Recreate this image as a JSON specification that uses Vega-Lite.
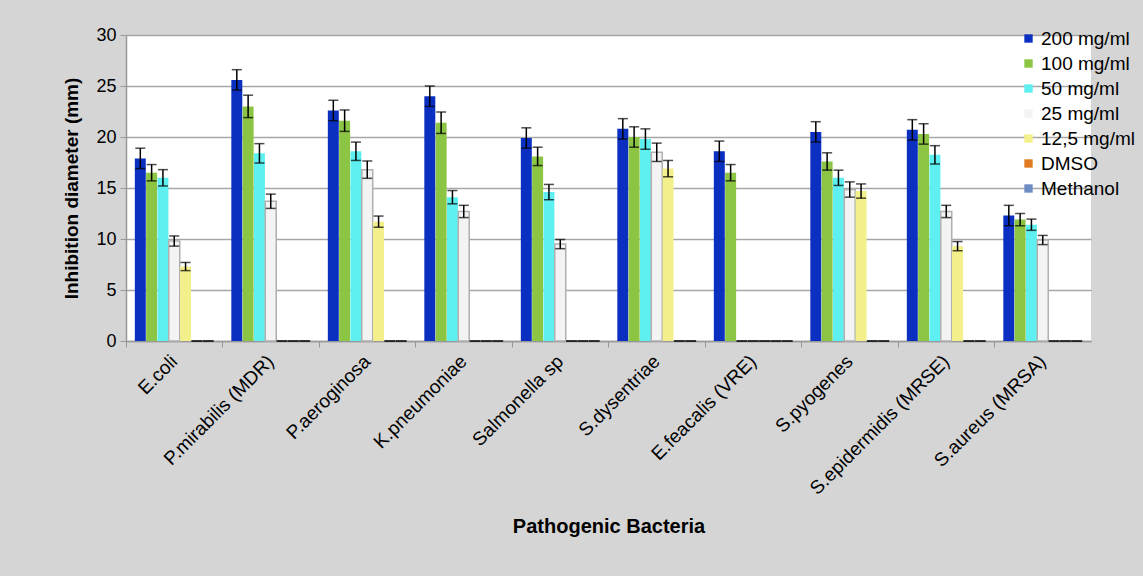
{
  "$schema": "https://vega.github.io/schema/vega-lite/v6.json",
  "width": 965,
  "height": 306,
  "autosize": {"type": "none"},
  "padding": {"left": 126, "top": 35, "right": 52, "bottom": 235},
  "background": "#d5d5d5",
  "config": {
    "font": "Liberation Sans",
    "view": {"fill": "white", "stroke": null}
  },
  "data": {
    "values": [
      {"bacteria": "E.coli", "conc": "200 mg/ml", "value": 17.9, "err": 1.0},
      {"bacteria": "E.coli", "conc": "100 mg/ml", "value": 16.5, "err": 0.8},
      {"bacteria": "E.coli", "conc": "50 mg/ml", "value": 16.0, "err": 0.8},
      {"bacteria": "E.coli", "conc": "25 mg/ml", "value": 9.8, "err": 0.5},
      {"bacteria": "E.coli", "conc": "12,5 mg/ml", "value": 7.3, "err": 0.4},
      {"bacteria": "E.coli", "conc": "DMSO", "value": 0, "err": 0},
      {"bacteria": "E.coli", "conc": "Methanol", "value": 0, "err": 0},
      {"bacteria": "P.mirabilis (MDR)", "conc": "200 mg/ml", "value": 25.6, "err": 1.0},
      {"bacteria": "P.mirabilis (MDR)", "conc": "100 mg/ml", "value": 23.0, "err": 1.1},
      {"bacteria": "P.mirabilis (MDR)", "conc": "50 mg/ml", "value": 18.4, "err": 0.95},
      {"bacteria": "P.mirabilis (MDR)", "conc": "25 mg/ml", "value": 13.7, "err": 0.7},
      {"bacteria": "P.mirabilis (MDR)", "conc": "12,5 mg/ml", "value": 0, "err": 0},
      {"bacteria": "P.mirabilis (MDR)", "conc": "DMSO", "value": 0, "err": 0},
      {"bacteria": "P.mirabilis (MDR)", "conc": "Methanol", "value": 0, "err": 0},
      {"bacteria": "P.aeroginosa", "conc": "200 mg/ml", "value": 22.6, "err": 1.0},
      {"bacteria": "P.aeroginosa", "conc": "100 mg/ml", "value": 21.6, "err": 1.05},
      {"bacteria": "P.aeroginosa", "conc": "50 mg/ml", "value": 18.6, "err": 0.9},
      {"bacteria": "P.aeroginosa", "conc": "25 mg/ml", "value": 16.8, "err": 0.85},
      {"bacteria": "P.aeroginosa", "conc": "12,5 mg/ml", "value": 11.7, "err": 0.55},
      {"bacteria": "P.aeroginosa", "conc": "DMSO", "value": 0, "err": 0},
      {"bacteria": "P.aeroginosa", "conc": "Methanol", "value": 0, "err": 0},
      {"bacteria": "K.pneumoniae", "conc": "200 mg/ml", "value": 24.0, "err": 1.0},
      {"bacteria": "K.pneumoniae", "conc": "100 mg/ml", "value": 21.4, "err": 1.05},
      {"bacteria": "K.pneumoniae", "conc": "50 mg/ml", "value": 14.1, "err": 0.65},
      {"bacteria": "K.pneumoniae", "conc": "25 mg/ml", "value": 12.7, "err": 0.6},
      {"bacteria": "K.pneumoniae", "conc": "12,5 mg/ml", "value": 0, "err": 0},
      {"bacteria": "K.pneumoniae", "conc": "DMSO", "value": 0, "err": 0},
      {"bacteria": "K.pneumoniae", "conc": "Methanol", "value": 0, "err": 0},
      {"bacteria": "Salmonella sp", "conc": "200 mg/ml", "value": 19.9, "err": 1.0},
      {"bacteria": "Salmonella sp", "conc": "100 mg/ml", "value": 18.1, "err": 0.9},
      {"bacteria": "Salmonella sp", "conc": "50 mg/ml", "value": 14.6, "err": 0.75},
      {"bacteria": "Salmonella sp", "conc": "25 mg/ml", "value": 9.5, "err": 0.45},
      {"bacteria": "Salmonella sp", "conc": "12,5 mg/ml", "value": 0, "err": 0},
      {"bacteria": "Salmonella sp", "conc": "DMSO", "value": 0, "err": 0},
      {"bacteria": "Salmonella sp", "conc": "Methanol", "value": 0, "err": 0},
      {"bacteria": "S.dysentriae", "conc": "200 mg/ml", "value": 20.8, "err": 1.0},
      {"bacteria": "S.dysentriae", "conc": "100 mg/ml", "value": 20.0, "err": 1.0},
      {"bacteria": "S.dysentriae", "conc": "50 mg/ml", "value": 19.8, "err": 1.0},
      {"bacteria": "S.dysentriae", "conc": "25 mg/ml", "value": 18.5, "err": 0.9},
      {"bacteria": "S.dysentriae", "conc": "12,5 mg/ml", "value": 16.9, "err": 0.8},
      {"bacteria": "S.dysentriae", "conc": "DMSO", "value": 0, "err": 0},
      {"bacteria": "S.dysentriae", "conc": "Methanol", "value": 0, "err": 0},
      {"bacteria": "E.feacalis (VRE)", "conc": "200 mg/ml", "value": 18.6, "err": 1.0},
      {"bacteria": "E.feacalis (VRE)", "conc": "100 mg/ml", "value": 16.5, "err": 0.8},
      {"bacteria": "E.feacalis (VRE)", "conc": "50 mg/ml", "value": 0, "err": 0},
      {"bacteria": "E.feacalis (VRE)", "conc": "25 mg/ml", "value": 0, "err": 0},
      {"bacteria": "E.feacalis (VRE)", "conc": "12,5 mg/ml", "value": 0, "err": 0},
      {"bacteria": "E.feacalis (VRE)", "conc": "DMSO", "value": 0, "err": 0},
      {"bacteria": "E.feacalis (VRE)", "conc": "Methanol", "value": 0, "err": 0},
      {"bacteria": "S.pyogenes", "conc": "200 mg/ml", "value": 20.5, "err": 1.0},
      {"bacteria": "S.pyogenes", "conc": "100 mg/ml", "value": 17.6, "err": 0.85},
      {"bacteria": "S.pyogenes", "conc": "50 mg/ml", "value": 16.0, "err": 0.75},
      {"bacteria": "S.pyogenes", "conc": "25 mg/ml", "value": 14.85, "err": 0.75},
      {"bacteria": "S.pyogenes", "conc": "12,5 mg/ml", "value": 14.7, "err": 0.7},
      {"bacteria": "S.pyogenes", "conc": "DMSO", "value": 0, "err": 0},
      {"bacteria": "S.pyogenes", "conc": "Methanol", "value": 0, "err": 0},
      {"bacteria": "S.epidermidis (MRSE)", "conc": "200 mg/ml", "value": 20.7, "err": 1.0},
      {"bacteria": "S.epidermidis (MRSE)", "conc": "100 mg/ml", "value": 20.3, "err": 1.0},
      {"bacteria": "S.epidermidis (MRSE)", "conc": "50 mg/ml", "value": 18.25, "err": 0.9},
      {"bacteria": "S.epidermidis (MRSE)", "conc": "25 mg/ml", "value": 12.7, "err": 0.6},
      {"bacteria": "S.epidermidis (MRSE)", "conc": "12,5 mg/ml", "value": 9.3, "err": 0.45},
      {"bacteria": "S.epidermidis (MRSE)", "conc": "DMSO", "value": 0, "err": 0},
      {"bacteria": "S.epidermidis (MRSE)", "conc": "Methanol", "value": 0, "err": 0},
      {"bacteria": "S.aureus (MRSA)", "conc": "200 mg/ml", "value": 12.3, "err": 1.0},
      {"bacteria": "S.aureus (MRSA)", "conc": "100 mg/ml", "value": 11.9, "err": 0.6},
      {"bacteria": "S.aureus (MRSA)", "conc": "50 mg/ml", "value": 11.4, "err": 0.55},
      {"bacteria": "S.aureus (MRSA)", "conc": "25 mg/ml", "value": 9.9, "err": 0.45},
      {"bacteria": "S.aureus (MRSA)", "conc": "12,5 mg/ml", "value": 0, "err": 0},
      {"bacteria": "S.aureus (MRSA)", "conc": "DMSO", "value": 0, "err": 0},
      {"bacteria": "S.aureus (MRSA)", "conc": "Methanol", "value": 0, "err": 0}
    ]
  },
  "encoding": {
    "x": {
      "field": "bacteria",
      "type": "nominal",
      "sort": null,
      "scale": {"paddingInner": 0, "paddingOuter": 0},
      "axis": {
        "title": "Pathogenic Bacteria",
        "titleFontSize": 20,
        "titleFontWeight": "bold",
        "titleColor": "#000",
        "titleY": 175,
        "titleBaseline": "top",
        "bandPosition": 0,
        "labelAngle": -45,
        "labelAlign": "right",
        "labelBaseline": "middle",
        "labelFontSize": 19,
        "labelColor": "#000",
        "labelPadding": 11,
        "labelLimit": 400,
        "labelOverlap": false,
        "labelBound": false,
        "labelFlush": false,
        "tickColor": "#999",
        "tickSize": 6,
        "domainColor": "#999",
        "domainWidth": 1.5
      }
    },
    "xOffset": {
      "field": "conc",
      "type": "nominal",
      "sort": ["200 mg/ml", "100 mg/ml", "50 mg/ml", "25 mg/ml", "12,5 mg/ml", "DMSO", "Methanol"],
      "scale": {"paddingInner": 0.03, "paddingOuter": 0.78}
    }
  },
  "layer": [
    {
      "mark": {"type": "bar", "strokeWidth": 1.5},
      "encoding": {
        "y": {
          "field": "value",
          "type": "quantitative",
          "scale": {"domain": [0, 30], "nice": false},
          "axis": {
            "title": "Inhibition diameter (mm)",
            "titleFontSize": 19,
            "titleFontWeight": "bold",
            "titleColor": "#000",
            "titlePadding": 14,
            "values": [0, 5, 10, 15, 20, 25, 30],
            "labelFontSize": 18,
            "labelColor": "#000",
            "labelPadding": 4,
            "tickSize": 6,
            "tickColor": "#999",
            "domainColor": "#999",
            "domainWidth": 1.5,
            "gridColor": "#a6a6a6",
            "gridWidth": 1.5
          }
        },
        "color": {
          "field": "conc",
          "type": "nominal",
          "scale": {
            "domain": ["200 mg/ml", "100 mg/ml", "50 mg/ml", "25 mg/ml", "12,5 mg/ml", "DMSO", "Methanol"],
            "range": ["#0b2fc0", "#8cc443", "#5ef0f0", "#f3f3f3", "#f3f08c", "#e07b23", "#6d8cc4"]
          },
          "legend": {
            "title": null,
            "orient": "none",
            "legendX": 893,
            "legendY": -6,
            "symbolType": "square",
            "symbolSize": 70,
            "symbolStrokeWidth": 0,
            "labelFontSize": 19,
            "labelColor": "#000",
            "labelOffset": 3,
            "labelLimit": 300,
            "rowPadding": 5
          }
        },
        "stroke": {
          "condition": [
            {"test": "datum.value == 0", "value": "#000000"},
            {"test": "datum.conc == '25 mg/ml'", "value": "#b0b0b0"}
          ],
          "value": null
        }
      }
    },
    {
      "transform": [
        {"filter": "datum.value > 0"},
        {"calculate": "datum.value - datum.err", "as": "lo"},
        {"calculate": "datum.value + datum.err", "as": "hi"}
      ],
      "layer": [
        {
          "mark": {"type": "rule", "color": "#000", "strokeWidth": 1.5},
          "encoding": {
            "y": {"field": "lo", "type": "quantitative"},
            "y2": {"field": "hi"}
          }
        },
        {
          "mark": {"type": "tick", "color": "#000", "thickness": 1.5, "size": 10},
          "encoding": {"y": {"field": "lo", "type": "quantitative"}}
        },
        {
          "mark": {"type": "tick", "color": "#000", "thickness": 1.5, "size": 10},
          "encoding": {"y": {"field": "hi", "type": "quantitative"}}
        }
      ]
    }
  ]
}
